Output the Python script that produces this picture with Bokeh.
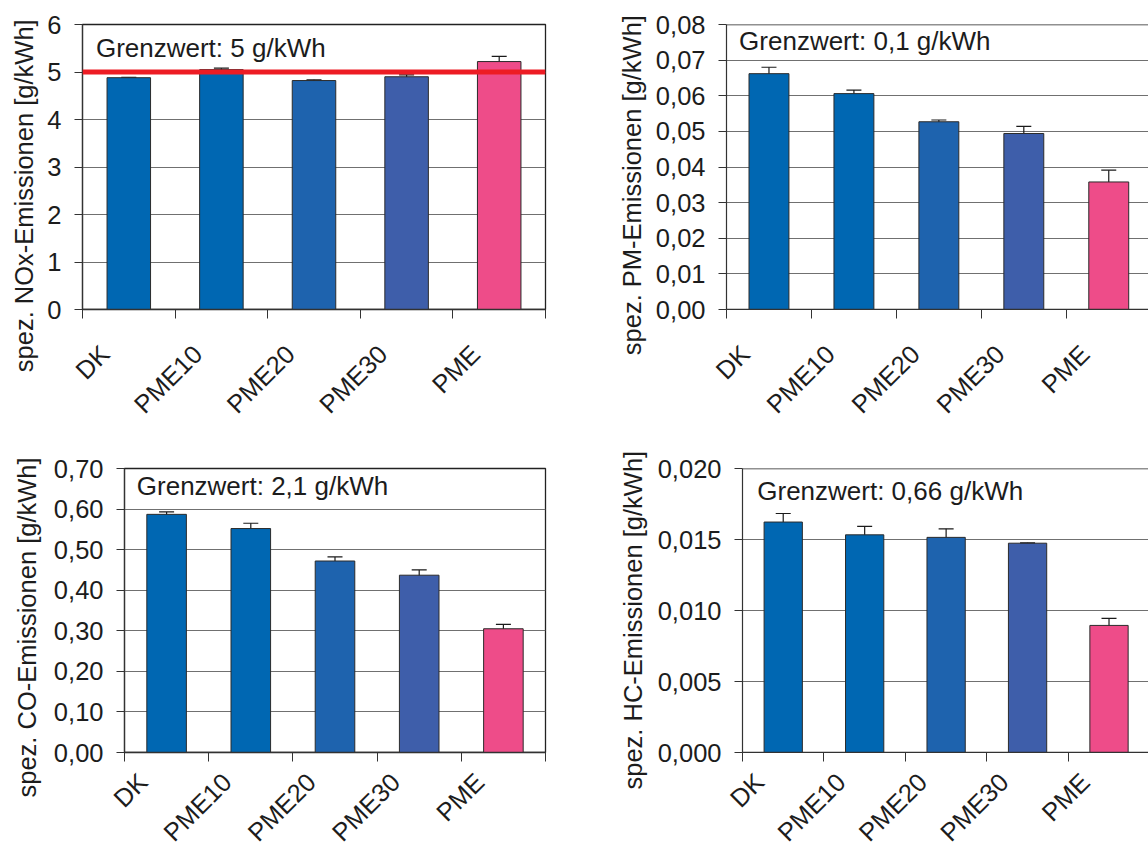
import math
from bokeh.plotting import figure
from bokeh.models import (Range1d, FixedTicker, CustomJSTickFormatter, Span, Label,
                          ColumnDataSource, Whisker, TeeHead, Title)
from bokeh.layouts import column, row
from bokeh.embed import file_html
from bokeh.resources import INLINE

# ---------------- data ----------------
categories = ["DK", "PME10", "PME20", "PME30", "PME"]
bar_colors = ["#0067B2", "#0067B2", "#1E63AE", "#3E5EAA", "#EE4C89"]

nox_values = [4.88, 5.05, 4.82, 4.90, 5.22]
nox_errors = [0.01, 0.03, 0.015, 0.04, 0.11]
nox_ticks = [0, 1, 2, 3, 4, 5, 6]
nox_limit = 5.0

pm_values = [0.0662, 0.0606, 0.0527, 0.0494, 0.0358]
pm_errors = [0.0018, 0.0010, 0.0005, 0.0020, 0.0033]
pm_ticks = [0.00, 0.01, 0.02, 0.03, 0.04, 0.05, 0.06, 0.07, 0.08]

co_values = [0.587, 0.552, 0.472, 0.437, 0.305]
co_errors = [0.006, 0.013, 0.010, 0.013, 0.011]
co_ticks = [0.00, 0.10, 0.20, 0.30, 0.40, 0.50, 0.60, 0.70]

hc_values = [0.01623, 0.01533, 0.01515, 0.01474, 0.00895]
hc_errors = [0.0006, 0.0006, 0.0006, 0.00003, 0.0005]
hc_ticks = [0.000, 0.005, 0.010, 0.015, 0.020]

titles = ["spez. NOx-Emissionen [g/kWh]", "spez. PM-Emissionen [g/kWh]",
          "spez. CO-Emissionen [g/kWh]", "spez. HC-Emissionen [g/kWh]"]
limit_texts = ["Grenzwert: 5 g/kWh", "Grenzwert: 0,1 g/kWh",
               "Grenzwert: 2,1 g/kWh", "Grenzwert: 0,66 g/kWh"]

FONT = "Liberation Sans"
TXT = "#1c1c1c"
FS = "25.5px"
FRAME_H = 285


def panel(values, errors, ticks, decimals, title, limit_text, width, height,
          mb_left, mb_right, mb_top, mb_bottom, cat_px, full_outline,
          title_offset, title_standoff, label_standoff, limit_dx, limit_dy,
          limit_line=None):
    frame_w = width - mb_left - mb_right
    x_end = frame_w / cat_px
    ymax = ticks[-1]
    ppy = FRAME_H / ymax
    p = figure(width=width, height=height, x_range=Range1d(0, x_end),
               y_range=Range1d(0, ymax), output_backend="svg", toolbar_location=None,
               min_border_left=mb_left, min_border_right=mb_right,
               min_border_top=mb_top, min_border_bottom=mb_bottom)
    p.background_fill_color = "white"
    p.border_fill_color = "white"
    if full_outline:
        p.outline_line_color = "#222222"
        p.outline_line_width = 1.3
    else:
        p.outline_line_color = None

    p.xgrid.visible = False
    p.ygrid.grid_line_color = "#707070"
    p.ygrid.grid_line_width = 1

    xs = [i + 0.5 for i in range(len(categories))]
    src = ColumnDataSource(dict(
        x=xs, top=values, color=bar_colors,
        upper=[v + e for v, e in zip(values, errors)],
        lower=[v - e for v, e in zip(values, errors)],
    ))
    p.vbar(x="x", top="top", width=0.47, fill_color="color", line_color="#2b2b2b",
           line_width=1, source=src)

    if limit_line is not None:
        p.add_layout(Span(location=limit_line, dimension="width",
                          line_color="#ED1C24", line_width=5))

    if not full_outline:
        p.add_layout(Span(location=ymax, dimension="width",
                          line_color="#222222", line_width=1.3))
    # baseline of the bars
    p.add_layout(Span(location=0, dimension="width", line_color="#333333",
                      line_width=1.3))

    w = Whisker(source=src, base="x", upper="upper", lower="lower",
                line_color="#1a1a1a", line_width=1.2,
                upper_head=TeeHead(size=15, line_color="#1a1a1a", line_width=1.2),
                lower_head=TeeHead(size=15, line_color="#1a1a1a", line_width=1.2))
    p.add_layout(w)

    # y axis
    ya = p.yaxis[0]
    ya.ticker = FixedTicker(ticks=ticks, minor_ticks=[])
    ya.formatter = CustomJSTickFormatter(
        code="return tick.toFixed(%d).replace('.', ',');" % decimals)
    ya.major_tick_out = 8
    ya.major_tick_in = 0
    ya.minor_tick_out = 0
    ya.minor_tick_in = 0
    ya.major_label_standoff = 13
    ya.major_label_text_font = FONT
    ya.major_label_text_font_size = FS
    ya.major_label_text_color = TXT
    ya.axis_line_color = "#333333"
    ya.axis_line_width = 1.2
    ya.major_tick_line_color = "#333333"

    # x axis: tick marks between categories, rotated category labels
    xa = p.xaxis[0]
    label_pos = [x - 24.0 / cat_px for x in xs]
    xa.ticker = FixedTicker(ticks=label_pos,
                            minor_ticks=[i for i in range(len(categories) + 1)])
    xa.formatter = CustomJSTickFormatter(args=dict(labels=categories),
                                         code="return labels[Math.round(tick)];")
    xa.major_label_orientation = math.pi / 4
    xa.major_label_standoff = label_standoff
    xa.major_label_text_font = FONT
    xa.major_label_text_font_size = FS
    xa.major_label_text_color = TXT
    xa.major_tick_out = 0
    xa.major_tick_in = 0
    xa.major_tick_line_color = None
    xa.minor_tick_out = 9
    xa.minor_tick_in = 0
    xa.minor_tick_line_color = "#333333"
    xa.axis_line_color = "#333333"
    xa.axis_line_width = 1.2

    # y axis title
    p.add_layout(Title(text=title, align="left", offset=title_offset,
                       standoff=title_standoff, text_font=FONT, text_font_size=FS,
                       text_font_style="normal", text_color=TXT), "left")

    # limit text
    p.add_layout(Label(x=limit_dx / cat_px, y=ymax - limit_dy / ppy, text=limit_text,
                       text_align="left", text_baseline="alphabetic",
                       text_font=FONT, text_font_size="26px", text_color=TXT))
    return p


p1 = panel(nox_values, nox_errors, nox_ticks, 0, titles[0], limit_texts[0],
           608, 438, 79, 63, 24, 129, 93.2, True, -62.7, 14, 31, 13.5, 32.7 - 9,
           limit_line=nox_limit)
p2 = panel(pm_values, pm_errors, pm_ticks, 2, titles[1], limit_texts[1],
           540, 438, 114, 0, 24, 129, 85.75, False, -45.7, 14, 31, 12.7, 25.0 - 9)
p3 = panel(co_values, co_errors, co_ticks, 2, titles[2], limit_texts[2],
           608, 421, 120, 63, 30, 106, 85.0, True, -45.0, 20, 16, 12.4, 26.7 - 9)
p4 = panel(hc_values, hc_errors, hc_ticks, 3, titles[3], limit_texts[3],
           540, 421, 130, 0, 30, 106, 82.25, False, -37.0, 16, 16, 14.9, 31.7 - 9)

layout = column(row(p1, p2), row(p3, p4))
open("out.html", "w").write(file_html(layout, INLINE))
